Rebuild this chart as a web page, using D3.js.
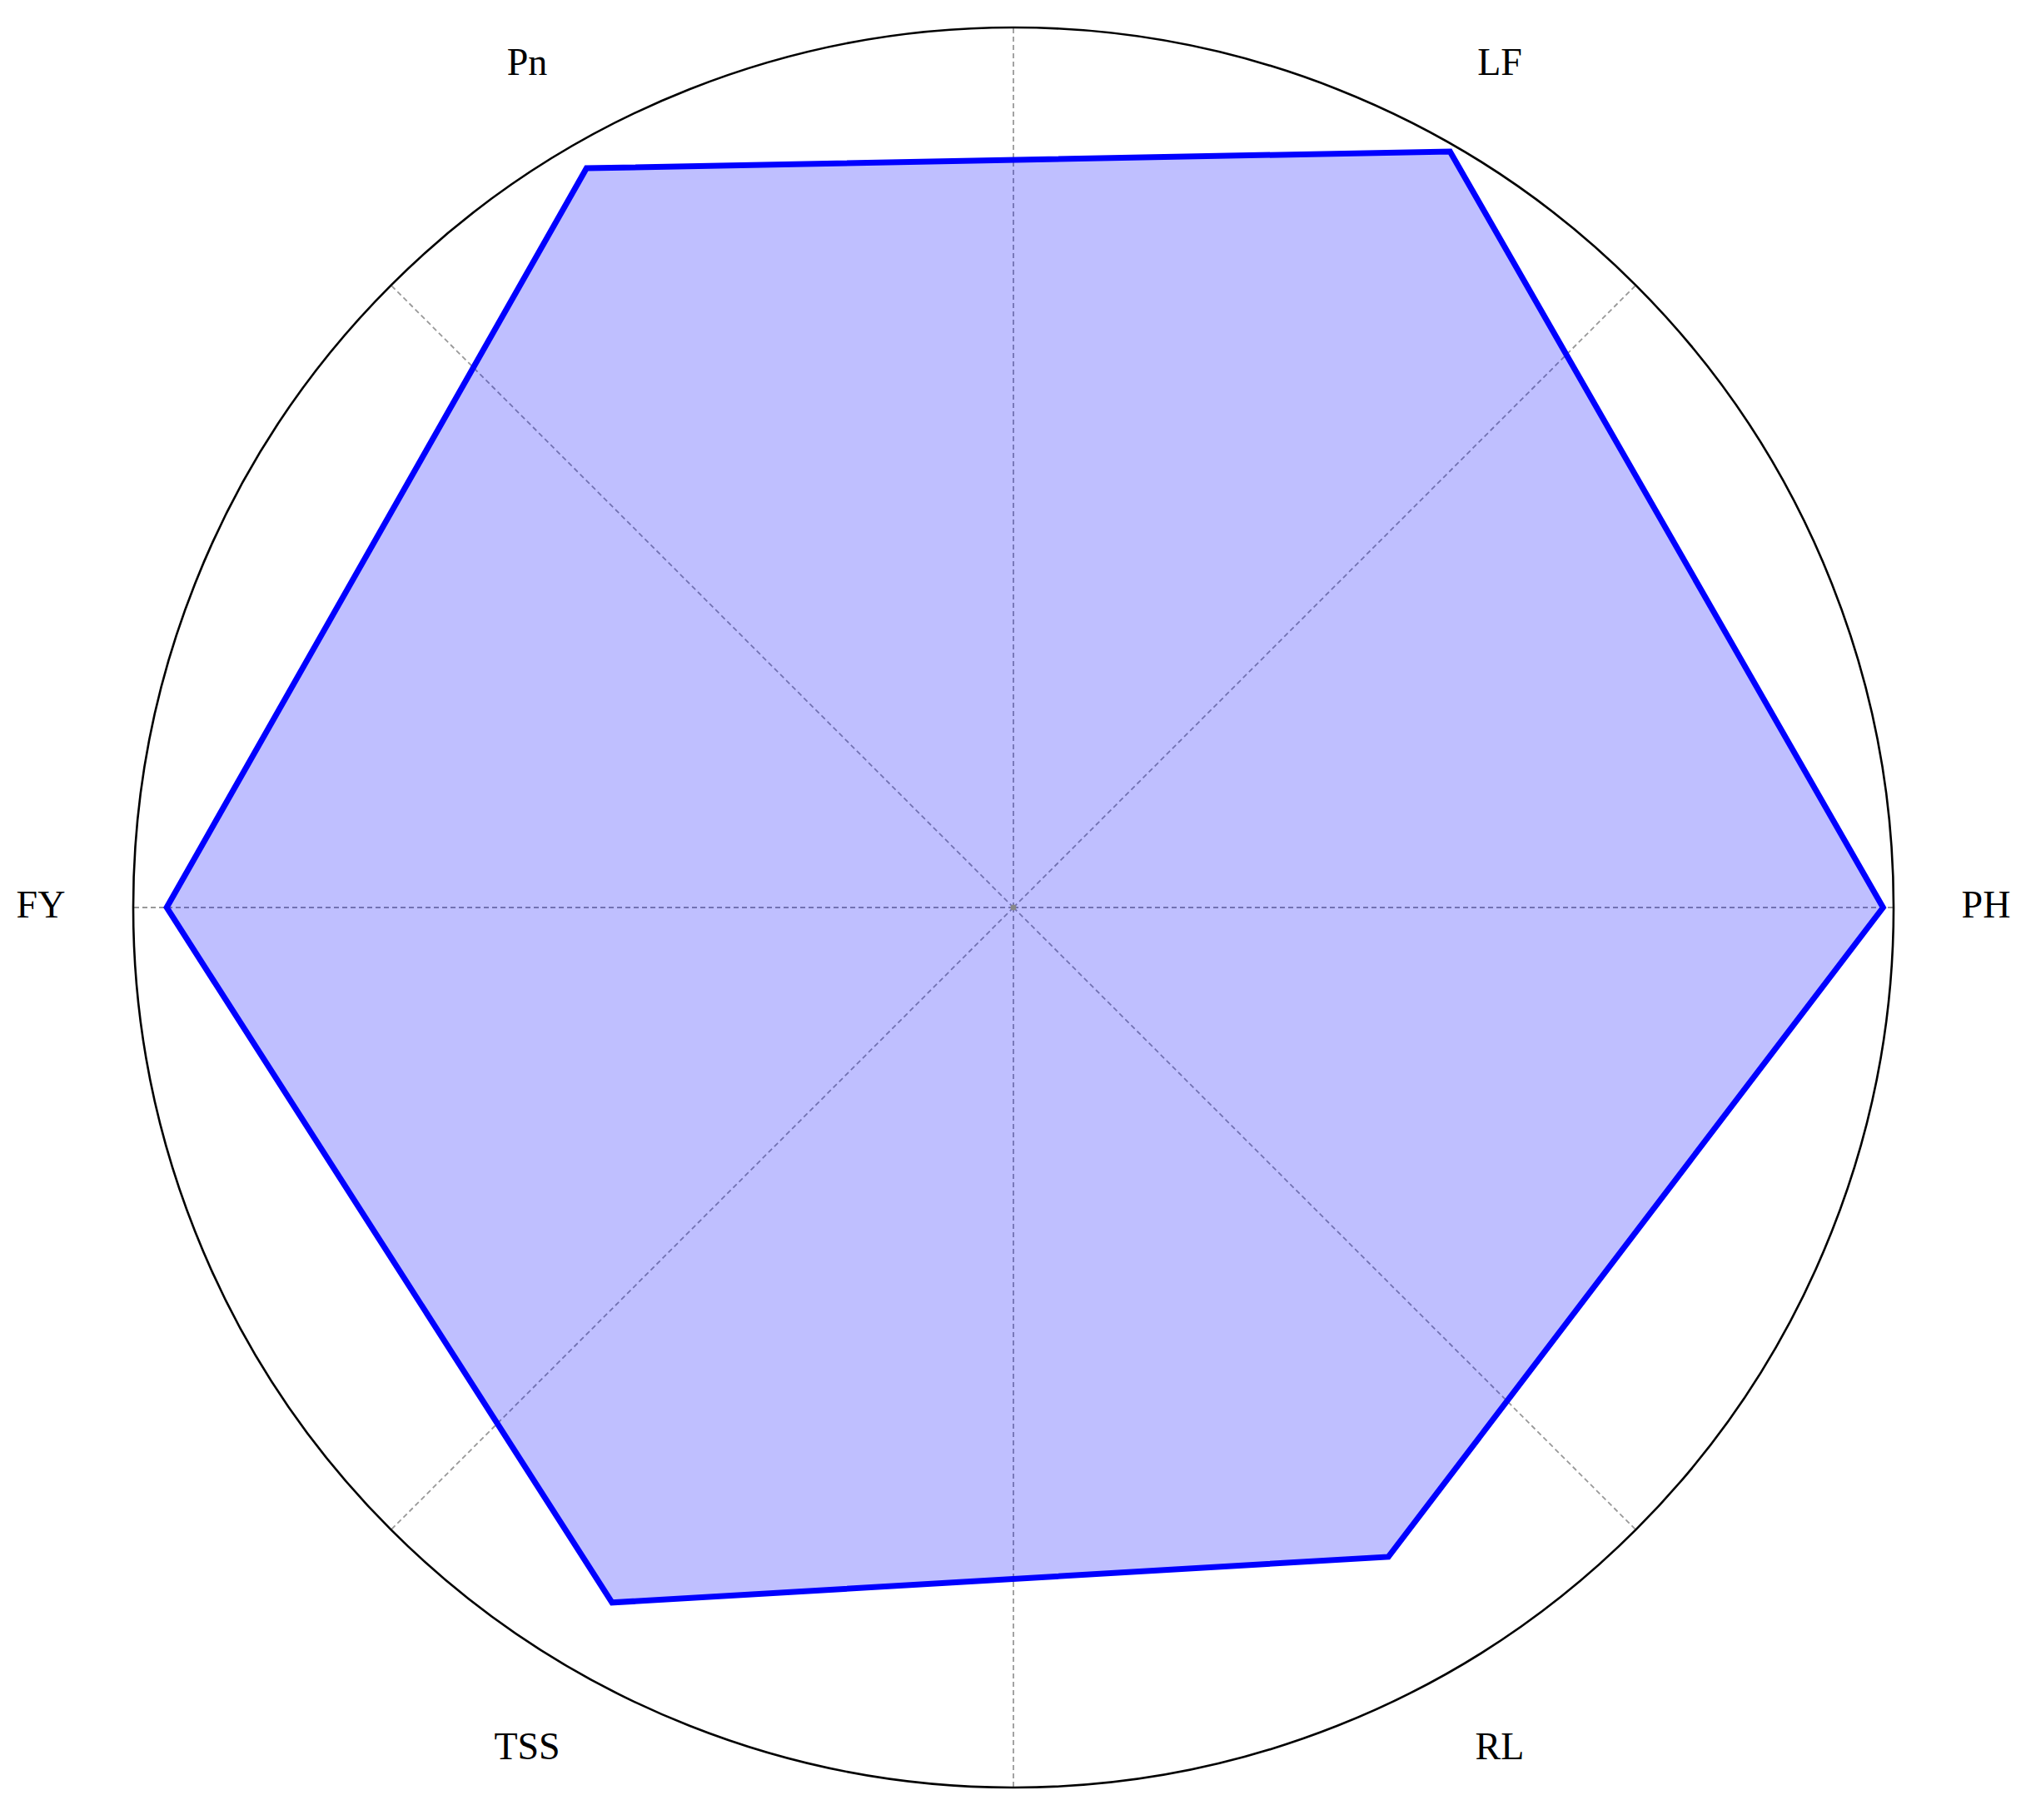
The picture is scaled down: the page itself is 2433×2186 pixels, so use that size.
<!DOCTYPE html>
<html>
<head>
<meta charset="utf-8">
<script src="https://cdn.jsdelivr.net/npm/d3@7"></script>
<style>
  html, body { margin: 0; padding: 0; background: #fff; }
  svg { display: block; }
</style>
</head>
<body>
<svg id="chart" width="2433" height="2186"></svg>
<script>
// Data
const categories = ["PH", "LF", "Pn", "FY", "TSS", "RL"];
const values = [0.988, 0.992, 0.970, 0.962, 0.912, 0.852];
const gridAnglesDeg = [0, 45, 90, 135, 180, 225, 270, 315];

const width = 2433, height = 2186;
const cx = 1217, cy = 1090, R = 1057;

const svg = d3.select("#chart");
const g = svg.append("g").attr("transform", `translate(${cx},${cy})`);

const r = d3.scaleLinear().domain([0, 1]).range([0, R]);
// angle for lineRadial: clockwise from 12 o'clock; categories go counter-clockwise starting at 3 o'clock
const angle = d3.scaleLinear().domain([0, categories.length]).range([Math.PI / 2, Math.PI / 2 - 2 * Math.PI]);

// Grid lines (dashed spokes)
g.selectAll("line.grid")
  .data(gridAnglesDeg)
  .join("line")
  .attr("class", "grid")
  .attr("x1", 0).attr("y1", 0)
  .attr("x2", d => r(1) * Math.cos(d * Math.PI / 180))
  .attr("y2", d => -r(1) * Math.sin(d * Math.PI / 180))
  .attr("stroke", "#999999")
  .attr("stroke-width", 1.8)
  .attr("stroke-dasharray", "6,4");

// Polygon
const line = d3.lineRadial()
  .angle((d, i) => angle(i))
  .radius(d => r(d))
  .curve(d3.curveLinearClosed);

g.append("path")
  .datum(values)
  .attr("d", line)
  .attr("fill", "rgba(0,0,255,0.25)")
  .attr("stroke", "#0000ff")
  .attr("stroke-width", 7)
  .attr("stroke-linejoin", "miter");

// center dot
g.append("circle").attr("r", 3.5).attr("fill", "#888");

// Outer circle
g.append("circle")
  .attr("r", r(1))
  .attr("fill", "none")
  .attr("stroke", "#000")
  .attr("stroke-width", 2.6);

// Labels
const labelR = r(1.105);
g.selectAll("text.lbl")
  .data(categories)
  .join("text")
  .attr("class", "lbl")
  .attr("x", (d, i) => labelR * Math.sin(angle(i)))
  .attr("y", (d, i) => -labelR * Math.cos(angle(i)))
  .attr("text-anchor", "middle")
  .attr("dy", "0.26em")
  .attr("font-family", "'Liberation Serif', 'DejaVu Serif', serif")
  .attr("font-size", 46)
  .attr("fill", "#000")
  .text(d => d);
</script>
</body>
</html>
